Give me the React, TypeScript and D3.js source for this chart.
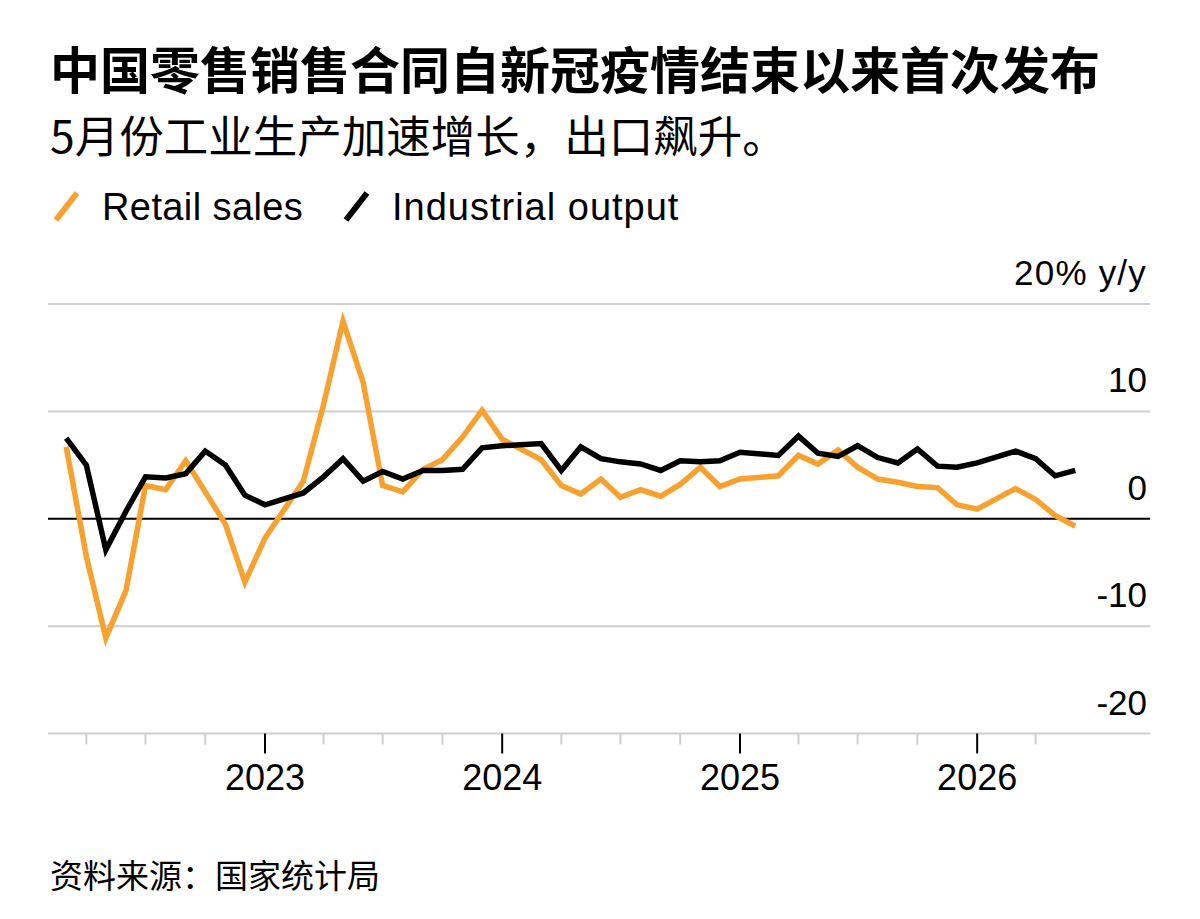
import * as d3 from 'd3'

const WIDTH = 1200
const HEIGHT = 919
const PLOT = { left: 48, right: 1150, top: 304, bottom: 733.5 }

// month of the reading (Jan is folded into Feb, as in the source)
const MONTHS = [
  '2022-02', '2022-03', '2022-04', '2022-05', '2022-06', '2022-07', '2022-08', '2022-09', '2022-10', '2022-11', '2022-12',
  '2023-02', '2023-03', '2023-04', '2023-05', '2023-06', '2023-07', '2023-08', '2023-09', '2023-10', '2023-11', '2023-12',
  '2024-02', '2024-03', '2024-04', '2024-05', '2024-06', '2024-07', '2024-08', '2024-09', '2024-10', '2024-11', '2024-12',
  '2025-02', '2025-03', '2025-04', '2025-05', '2025-06', '2025-07', '2025-08', '2025-09', '2025-10', '2025-11', '2025-12',
  '2026-02', '2026-03', '2026-04', '2026-05',
]

const RETAIL_SALES = [
  6.7, -3.5, -11.1, -6.7, 3.1, 2.7, 5.4, 2.5, -0.5, -5.9, -1.8,
  3.5, 10.6, 18.4, 12.7, 3.1, 2.5, 4.6, 5.5, 7.6, 10.1, 7.4,
  5.5, 3.1, 2.3, 3.7, 2.0, 2.7, 2.1, 3.2, 4.8, 3.0, 3.7,
  4.0, 5.9, 5.1, 6.4, 4.8, 3.7, 3.4, 3.0, 2.9, 1.3, 0.9,
  2.8, 1.8, 0.3, -0.7,
]

const INDUSTRIAL_OUTPUT = [
  7.5, 5.0, -2.9, 0.7, 3.9, 3.8, 4.2, 6.3, 5.0, 2.2, 1.3,
  2.4, 3.9, 5.6, 3.5, 4.4, 3.7, 4.5, 4.5, 4.6, 6.6, 6.8,
  7.0, 4.5, 6.7, 5.6, 5.3, 5.1, 4.5, 5.4, 5.3, 5.4, 6.2,
  5.9, 7.7, 6.1, 5.8, 6.8, 5.7, 5.2, 6.5, 4.9, 4.8, 5.2,
  6.3, 5.6, 4.0, 4.5,
]

const Y_TICKS = [20, 10, 0, -10, -20]
const YEAR_TICKS = [2023, 2024, 2025, 2026]

const TITLE = '中国零售销售合同自新冠疫情结束以来首次发布'
const SUBTITLE = '5月份工业生产加速增长，出口飙升。'
const SOURCE = '资料来源：国家统计局'

const ORANGE = '#f9a12e'
const GRID = '#cfcfcf'
const CJK = '"Noto Sans CJK SC", sans-serif'
const LATIN = '"Liberation Sans", Arial, sans-serif'

// plotted at the end of the month, i.e. the 1st of the next month
const toDate = (s: string) => {
  const [y, m] = s.split('-').map(Number)
  return new Date(y, m, 1)
}

type Point = { date: Date; value: number }

export default function App() {
  const dates = MONTHS.map(toDate)
  const retail: Point[] = dates.map((date, i) => ({ date, value: RETAIL_SALES[i] }))
  const industrial: Point[] = dates.map((date, i) => ({ date, value: INDUSTRIAL_OUTPUT[i] }))
  const lastDate = dates[dates.length - 1]

  const xScale = d3.scaleTime()
    .domain([new Date(2022, 1, 1), new Date(2026, 8, 24)])
    .range([PLOT.left, PLOT.right])

  const yScale = d3.scaleLinear()
    .domain([-20, 20])
    .range([PLOT.bottom, PLOT.top])

  const line = d3.line<Point>()
    .x(d => xScale(d.date))
    .y(d => yScale(d.value))

  // quarterly minor ticks, only as far as the data runs
  const quarterTicks = xScale.ticks(d3.timeMonth.every(3)!)
    .filter(d => d.getMonth() !== 0 && d <= lastDate)

  return (
    <svg
      width={WIDTH}
      height={HEIGHT}
      viewBox={`0 0 ${WIDTH} ${HEIGHT}`}
      style={{ position: 'absolute', left: 0, top: 0, background: '#fff' }}
    >
      <rect width={WIDTH} height={HEIGHT} fill="#fff" />

      {/* Header */}
      <text x={50} y={89} fontFamily={CJK} fontWeight={700} fontSize={50} fill="#000">
        {TITLE}
      </text>
      <text x={50} y={153} fontFamily={CJK} fontSize={44.5} fill="#000">
        {SUBTITLE}
      </text>

      {/* Legend */}
      <line x1={56} y1={220} x2={77} y2={193} stroke={ORANGE} strokeWidth={6} />
      <text x={102} y={220} fontFamily={LATIN} fontSize={38} letterSpacing={0.4} fill="#000">Retail sales</text>
      <line x1={346} y1={220} x2={367} y2={193} stroke="#000" strokeWidth={6} />
      <text x={392} y={220} fontFamily={LATIN} fontSize={38} letterSpacing={1} fill="#000">Industrial output</text>

      {/* Grid lines */}
      {Y_TICKS.filter(v => v !== 0).map(v => (
        <line
          key={`grid-${v}`}
          x1={PLOT.left}
          x2={PLOT.right}
          y1={yScale(v)}
          y2={yScale(v)}
          stroke={GRID}
          strokeWidth={2}
        />
      ))}

      {/* Y labels, right side above each line */}
      {Y_TICKS.map(v => (
        <text
          key={`ylab-${v}`}
          x={1147}
          y={yScale(v) - 19}
          textAnchor="end"
          fontFamily={LATIN}
          fontSize={35}
          letterSpacing={v === 20 ? 1.2 : 0}
          fill="#000"
        >
          {v === 20 ? '20% y/y' : v}
        </text>
      ))}

      {/* X ticks */}
      {quarterTicks.map(d => (
        <line
          key={`qt-${d.getTime()}`}
          x1={xScale(d)}
          x2={xScale(d)}
          y1={PLOT.bottom}
          y2={PLOT.bottom + 11}
          stroke={GRID}
          strokeWidth={2}
        />
      ))}
      {YEAR_TICKS.map(y => (
        <g key={`yr-${y}`}>
          <line
            x1={xScale(new Date(y, 0, 1))}
            x2={xScale(new Date(y, 0, 1))}
            y1={PLOT.bottom}
            y2={PLOT.bottom + 20}
            stroke="#000"
            strokeWidth={2}
          />
          <text
            x={xScale(new Date(y, 0, 1))}
            y={790}
            textAnchor="middle"
            fontFamily={LATIN}
            fontSize={36}
            fill="#000"
          >
            {y}
          </text>
        </g>
      ))}

      {/* Zero line */}
      <line
        x1={PLOT.left}
        x2={PLOT.right}
        y1={yScale(0)}
        y2={yScale(0)}
        stroke="#000"
        strokeWidth={2}
      />

      {/* Series */}
      <path
        d={line(retail) || ''}
        fill="none"
        stroke={ORANGE}
        strokeWidth={5.5}
        strokeLinejoin="miter"
      />
      <path
        d={line(industrial) || ''}
        fill="none"
        stroke="#000"
        strokeWidth={5.5}
        strokeLinejoin="miter"
      />

      {/* Source */}
      <text x={50} y={888} fontFamily={CJK} fontSize={33} fill="#000">
        {SOURCE}
      </text>
    </svg>
  )
}
